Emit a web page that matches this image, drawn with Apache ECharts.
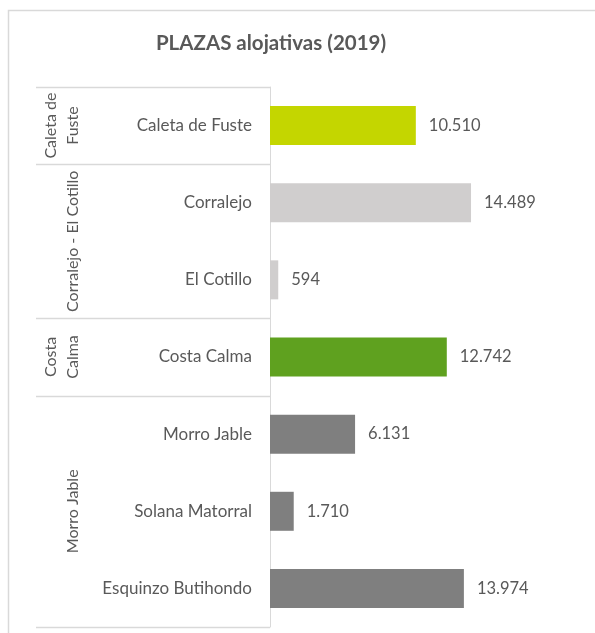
<!DOCTYPE html>
<html>
<head>
<meta charset="utf-8">
<script src="https://cdn.jsdelivr.net/npm/echarts@6/dist/echarts.min.js"></script>
<style>
  html, body { margin: 0; padding: 0; background: #fff; }
  #chart { width: 595px; height: 633px; }
</style>
</head>
<body>
<div id="chart"></div>
<script>
const categories = ['Caleta de Fuste', 'Corralejo', 'El Cotillo', 'Costa Calma', 'Morro Jable', 'Solana Matorral', 'Esquinzo Butihondo'];
const values = [10510, 14489, 594, 12742, 6131, 1710, 13974];
const groupNames = ['Caleta de\nFuste', 'Corralejo - El Cotillo', 'Costa\nCalma', 'Morro Jable'];
const groupSizes = [1, 2, 1, 3];

const groupColors = ['#c4d600', '#d0cece', '#5fa11f', '#7f7f7f'];
const FONT = 'Lato';
const TEXT = '#595959';
const LINE = '#d9d9d9';

// which group each category belongs to
const groupOf = [];
groupSizes.forEach((n, g) => { for (let i = 0; i < n; i++) groupOf.push(g); });

const fmt = v => String(v).replace(/\B(?=(\d{3})+(?!\d))/g, '.');

const chart = echarts.init(document.getElementById('chart'));

chart.setOption({
  animation: false,
  title: {
    text: 'PLAZAS alojativas (2019)',
    left: 266,
    top: 28,
    textAlign: 'center',
    textStyle: { fontFamily: FONT, fontSize: 20.5, fontWeight: 'bold', color: TEXT }
  },
  grid: { left: 270, right: 103, top: 87, bottom: 6 },
  xAxis: {
    type: 'value',
    min: 0,
    max: 16000,
    show: false
  },
  yAxis: {
    type: 'category',
    data: categories,
    inverse: true,
    axisLine: { show: true, lineStyle: { color: LINE, width: 1 } },
    axisTick: { show: false },
    splitLine: { show: false },
    axisLabel: {
      margin: 18,
      fontFamily: FONT,
      fontSize: 17,
      color: TEXT
    }
  },
  series: [{
    type: 'bar',
    data: values,
    barWidth: 39,
    itemStyle: { color: p => groupColors[groupOf[p.dataIndex]] },
    label: {
      show: true,
      position: 'right',
      distance: 13,
      fontFamily: FONT,
      fontSize: 16.5,
      color: TEXT,
      formatter: p => fmt(p.value)
    }
  }]
});

// group column: separator lines and rotated group labels, placed from the axis
const centers = categories.map(c => chart.convertToPixel({ yAxisIndex: 0 }, c));
const band = centers[1] - centers[0];
const graphics = [{
  type: 'rect',
  shape: { x: 8.5, y: 10.5, width: 700, height: 700 },
  style: { fill: 'none', stroke: LINE, lineWidth: 1.5 },
  silent: true
}];
const lineAt = y => ({
  type: 'line',
  shape: { x1: 36, y1: Math.round(y) + 0.5, x2: 270, y2: Math.round(y) + 0.5 },
  style: { stroke: LINE, lineWidth: 1.5 },
  silent: true
});
let start = 0;
graphics.push(lineAt(centers[0] - band / 2));
groupSizes.forEach((n, g) => {
  const top = centers[start] - band / 2;
  const bottom = centers[start + n - 1] + band / 2;
  graphics.push(lineAt(bottom));
  graphics.push({
    type: 'text',
    x: 84,
    y: (top + bottom) / 2,
    rotation: Math.PI / 2,
    style: {
      text: groupNames[g],
      x: 0, y: 0,
      align: 'center',
      verticalAlign: 'bottom',
      fontFamily: FONT,
      fontSize: 16,
      lineHeight: 22,
      fill: TEXT
    },
    silent: true
  });
  start += n;
});
chart.setOption({ graphic: graphics });
</script>
</body>
</html>
